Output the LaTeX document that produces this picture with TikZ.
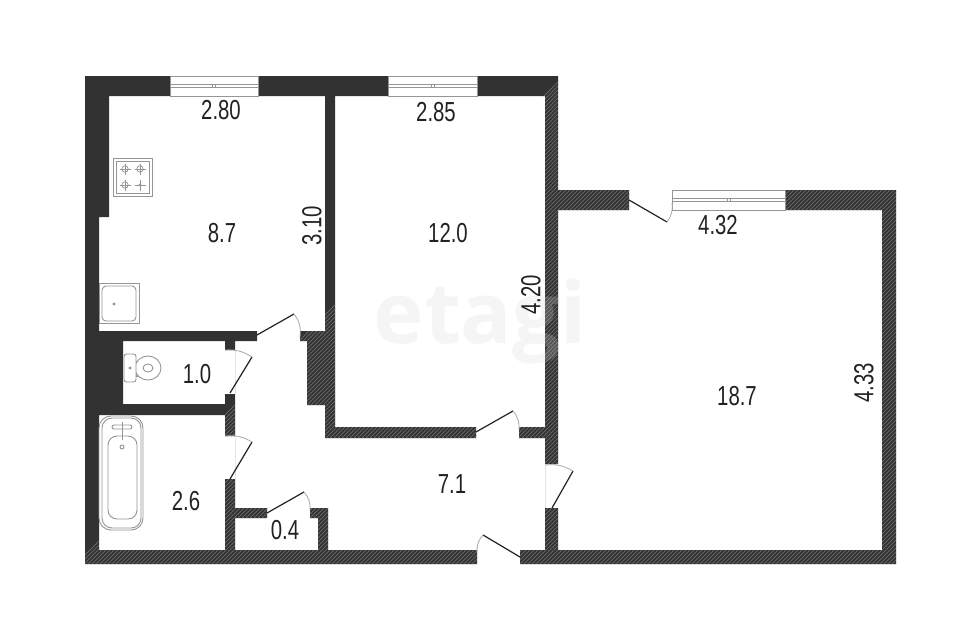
\documentclass[tikz,border=0pt]{standalone}
\usepackage{fontspec}
\setmainfont[FakeStretch=0.74]{Liberation Sans}
\newfontfamily\markfont{Open Sans}
\definecolor{wallc}{HTML}{323232}
\definecolor{hatchc}{HTML}{646464}
\definecolor{fixc}{HTML}{959595}
\definecolor{inkc}{HTML}{222222}
\definecolor{arcc}{HTML}{A8A8A8}
\def\wallpath{
 (85,76) rectangle (170,96)
 (258,76) rectangle (388,96)
 (477,76) rectangle (558,96)
 (85,76) rectangle (99,564)
 (85,96) rectangle (109,217)
 (325,96) rectangle (335,331)
 (545,96) rectangle (558,464)
 (558,190) rectangle (629,210)
 (785,190) rectangle (896,210)
 (882,190) rectangle (896,564)
 (85,331) rectangle (257,341)
 (300,331) rectangle (335,341)
 (85,341) rectangle (123,415)
 (307,341) rectangle (335,405)
 (325,405) rectangle (335,438)
 (325,427) rectangle (476,438)
 (519,427) rectangle (558,438)
 (225,341) rectangle (235,350)
 (225,394) rectangle (235,436)
 (85,404) rectangle (235,415)
 (225,479) rectangle (235,564)
 (235,508) rectangle (267,518)
 (310,508) rectangle (328,518)
 (318,508) rectangle (328,564)
 (545,508) rectangle (558,564)
 (85,550) rectangle (477,564)
 (520,550) rectangle (896,564)
}
\tikzset{
 x=1pt,y=-1pt,
 labeltext/.style={inner sep=0pt,text=inkc,font=\fontsize{27.5}{27.5}\selectfont},
 leaf/.style={draw=inkc,line width=1.2pt},
 swing/.style={draw=arcc,line width=0.8pt},
 fixture/.style={draw=fixc,line width=0.9pt,fill=white},
 fixline/.style={draw=fixc,line width=0.9pt},
 winframe/.style={draw=fixc,line width=0.8pt,fill=white},
 marktext/.style={inner sep=0pt,anchor=base,font=\markfont\bfseries\fontsize{85}{85}\selectfont}
}
\newcommand{\winbox}[2]{%
 \path[winframe] (#1,76) rectangle (#2,96);
 \path[winframe] (#1,84) rectangle (#2,87);
 \path[winframe] ({(#1+#2)/2-1.5},84) rectangle ({(#1+#2)/2+1.5},87);
}
\newcommand{\burner}[2]{%
 \draw[fixline,line width=0.7pt] (#1,#2) circle (3.2);
 \draw[fixline,line width=0.7pt] (#1-5.5,#2) -- (#1+5.5,#2) (#1,#2-5.5) -- (#1,#2+5.5);
}
\begin{document}
\begin{tikzpicture}
\useasboundingbox (0,0) rectangle (960,640);
\fill[white] (0,0) rectangle (960,640);
% watermark on the white floor
\node[marktext,text=black!4] (markfloor) at (480,343) {etagi};
% walls
\fill[wallc] \wallpath;
\begin{scope}
 \clip \wallpath;
 \foreach \k in {0,4,...,1500} {
  \draw[hatchc,line width=0.8pt] (\k,640) -- (\k+640,0);
 }
 \node[marktext,text=white,opacity=0.18] (markwall) at (480,343) {etagi};
\end{scope}
% windows
\winbox{170}{258}
\winbox{388}{477}
\path[winframe] (672,190) rectangle (785,210);
\path[winframe] (672,198) rectangle (785,201);
\path[winframe] (727,198) rectangle (730,201);
% doors
\draw[arcc!30,line width=0.4pt] (235,350) -- (235,394) (235,436) -- (235,479) (545,464) -- (545,508);
\draw[leaf] (257,335) -- (294,314);
\draw[swing] (294,314) to[bend left=22] (300,337);
\draw[leaf] (230,393) -- (252,357);
\draw[swing] (252,357) to[bend right=18] (225,350);
\draw[leaf] (230,479) -- (252,442);
\draw[swing] (252,442) to[bend right=18] (225,436);
\draw[leaf] (267,513) -- (304,492);
\draw[swing] (304,492) to[bend left=22] (310,510);
\draw[leaf] (476,432) -- (513,411);
\draw[swing] (513,411) to[bend left=22] (519,430);
\draw[leaf] (552,508) -- (573,471);
\draw[swing] (573,471) to[bend right=18] (545,465);
\draw[leaf] (520,557) -- (483,535);
\draw[swing] (483,535) to[bend right=22] (477,552);
\draw[leaf] (629,200) -- (667,222);
\draw[swing] (667,222) to[bend right=22] (672,203);
% stove
\path[fixture] (113,158) rectangle (152,196);
\path[fixture] (116,161) rectangle (149,193);
\burner{125}{169}
\burner{140}{169}
\burner{125}{185}
\draw[fixline,line width=0.7pt] (140,185) circle (1.2);
\draw[fixline,line width=0.7pt] (134.5,185) -- (145.5,185) (140,179.5) -- (140,190.5);
% sink
\path[fixture] (99,283) rectangle (139,323);
\path[fixture,rounded corners=4pt] (102,286) rectangle (136,321);
\fill[fixc] (114,304) circle (1.7);
% toilet
\draw[fixture] (136,361) rectangle (142,376);
\path[fixture] (148,368) ellipse (13 and 12);
\path[fixture] (148,368) ellipse (5 and 4);
\path[fixture,rounded corners=2.5pt] (124,354) rectangle (136,382);
\fill[fixc] (130,368) circle (1.6);
% bath
\path[fixture,rounded corners=12pt] (99,416) rectangle (143,530);
\path[fixture,rounded corners=10pt] (102,418) rectangle (141,528);
\path[fixture,rounded corners=9pt] (108,436) rectangle (137,519);
\draw[fixture,rounded corners=2pt] (112,425) rectangle (132,429);
\draw[fixline] (122,422) -- (122,440);
\draw[fixture] (122,447) circle (2);
% labels
\node[labeltext] (d1) at (221,110) {2.80};
\node[labeltext] (d2) at (436,112) {2.85};
\node[labeltext] (d3) at (718,225) {4.32};
\node[labeltext,rotate=90] (d4) at (312,226) {3.10};
\node[labeltext,rotate=90] (d5) at (531,295) {4.20};
\node[labeltext,rotate=90] (d6) at (864,383) {4.33};
\node[labeltext] (a1) at (222,233) {8.7};
\node[labeltext] (a2) at (448,233) {12.0};
\node[labeltext] (a3) at (737,396) {18.7};
\node[labeltext] (a4) at (197,374) {1.0};
\node[labeltext] (a5) at (186,501) {2.6};
\node[labeltext] (a6) at (452,484) {7.1};
\node[labeltext] (a7) at (285,530) {0.4};
\end{tikzpicture}
\end{document}
